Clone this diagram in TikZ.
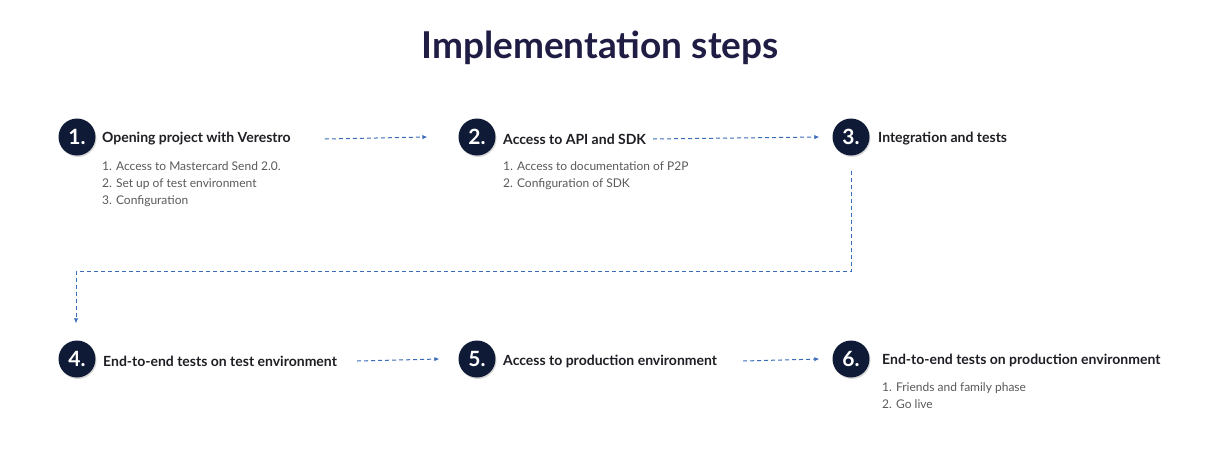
\documentclass[tikz,border=0pt]{standalone}
\usepackage{fontspec}
\setmainfont{Lato}
\usetikzlibrary{shadows,arrows.meta}
\definecolor{navy}{HTML}{0E1A36}
\definecolor{titlec}{HTML}{1F1D44}
\definecolor{stepc}{HTML}{1E1E24}
\definecolor{subc}{HTML}{5A5A5A}
\definecolor{arrowc}{HTML}{3A6DB8}
\begin{document}
\begin{tikzpicture}[x=1pt,y=-1pt,
  num/.style={circle,fill=navy,minimum size=37pt,inner sep=0pt,text=white,
    font=\bfseries\fontsize{21}{21}\selectfont,
    drop shadow={opacity=0.3,shadow xshift=1pt,shadow yshift=-1.5pt}},
  head/.style={anchor=west,text=stepc,font=\bfseries\fontsize{14}{16}\selectfont,inner sep=0pt},
  sub/.style={anchor=north west,text=subc,font=\fontsize{12}{17}\selectfont,align=left,inner sep=0pt},
  flow/.style={draw=arrowc,dash pattern=on 4pt off 3pt,line width=1pt,
    -{Latex[length=5pt,width=4.5pt]}}]
\useasboundingbox[fill=white] (0,0) rectangle (1229,469);

\node[text=titlec,font=\bfseries\fontsize{37}{37}\selectfont,inner sep=0pt] (title) at (600,48) {Implementation steps};

% row 1
\node[num] (c1) at (77,137) {1.};
\node[head] (h1) at (102,139) {Opening project with Verestro};
\node[sub] (s1) at (102,161) {1. Access to Mastercard Send 2.0.\\2. Set up of test environment\\3. Configuration};

\node[num] (c2) at (477,137) {2.};
\node[head] (h2) at (503,139) {Access to API and SDK};
\node[sub] (s2) at (503,161) {1. Access to documentation of P2P\\2. Configuration of SDK};

\node[num] (c3) at (851,137) {3.};
\node[head] (h3) at (878,139) {Integration and tests};

% row 2
\node[num] (c4) at (77,359) {4.};
\node[head] (h4) at (103,361) {End-to-end tests on test environment};

\node[num] (c5) at (477,359) {5.};
\node[head] (h5) at (503,361) {Access to production environment};

\node[num] (c6) at (851,359) {6.};
\node[head] (h6) at (882,360) {End-to-end tests on production environment};
\node[sub] (s6) at (882,382) {1. Friends and family phase\\2. Go live};

% connectors
\draw[flow] ([xshift=34pt]h1.east) -- ([xshift=-31pt]c2.west);
\draw[flow] ([xshift=7pt]h2.east) -- ([xshift=-13pt]c3.west);
\draw[flow] ([yshift=-15pt]c3.south) -- ++(0,101) -| ([yshift=17pt,xshift=-1pt]c4.north);
\draw[flow] ([xshift=20pt]h4.east) -- ([xshift=-19pt]c5.west);
\draw[flow] ([xshift=26pt]h5.east) -- ([xshift=-13pt]c6.west);
\end{tikzpicture}
\end{document}
